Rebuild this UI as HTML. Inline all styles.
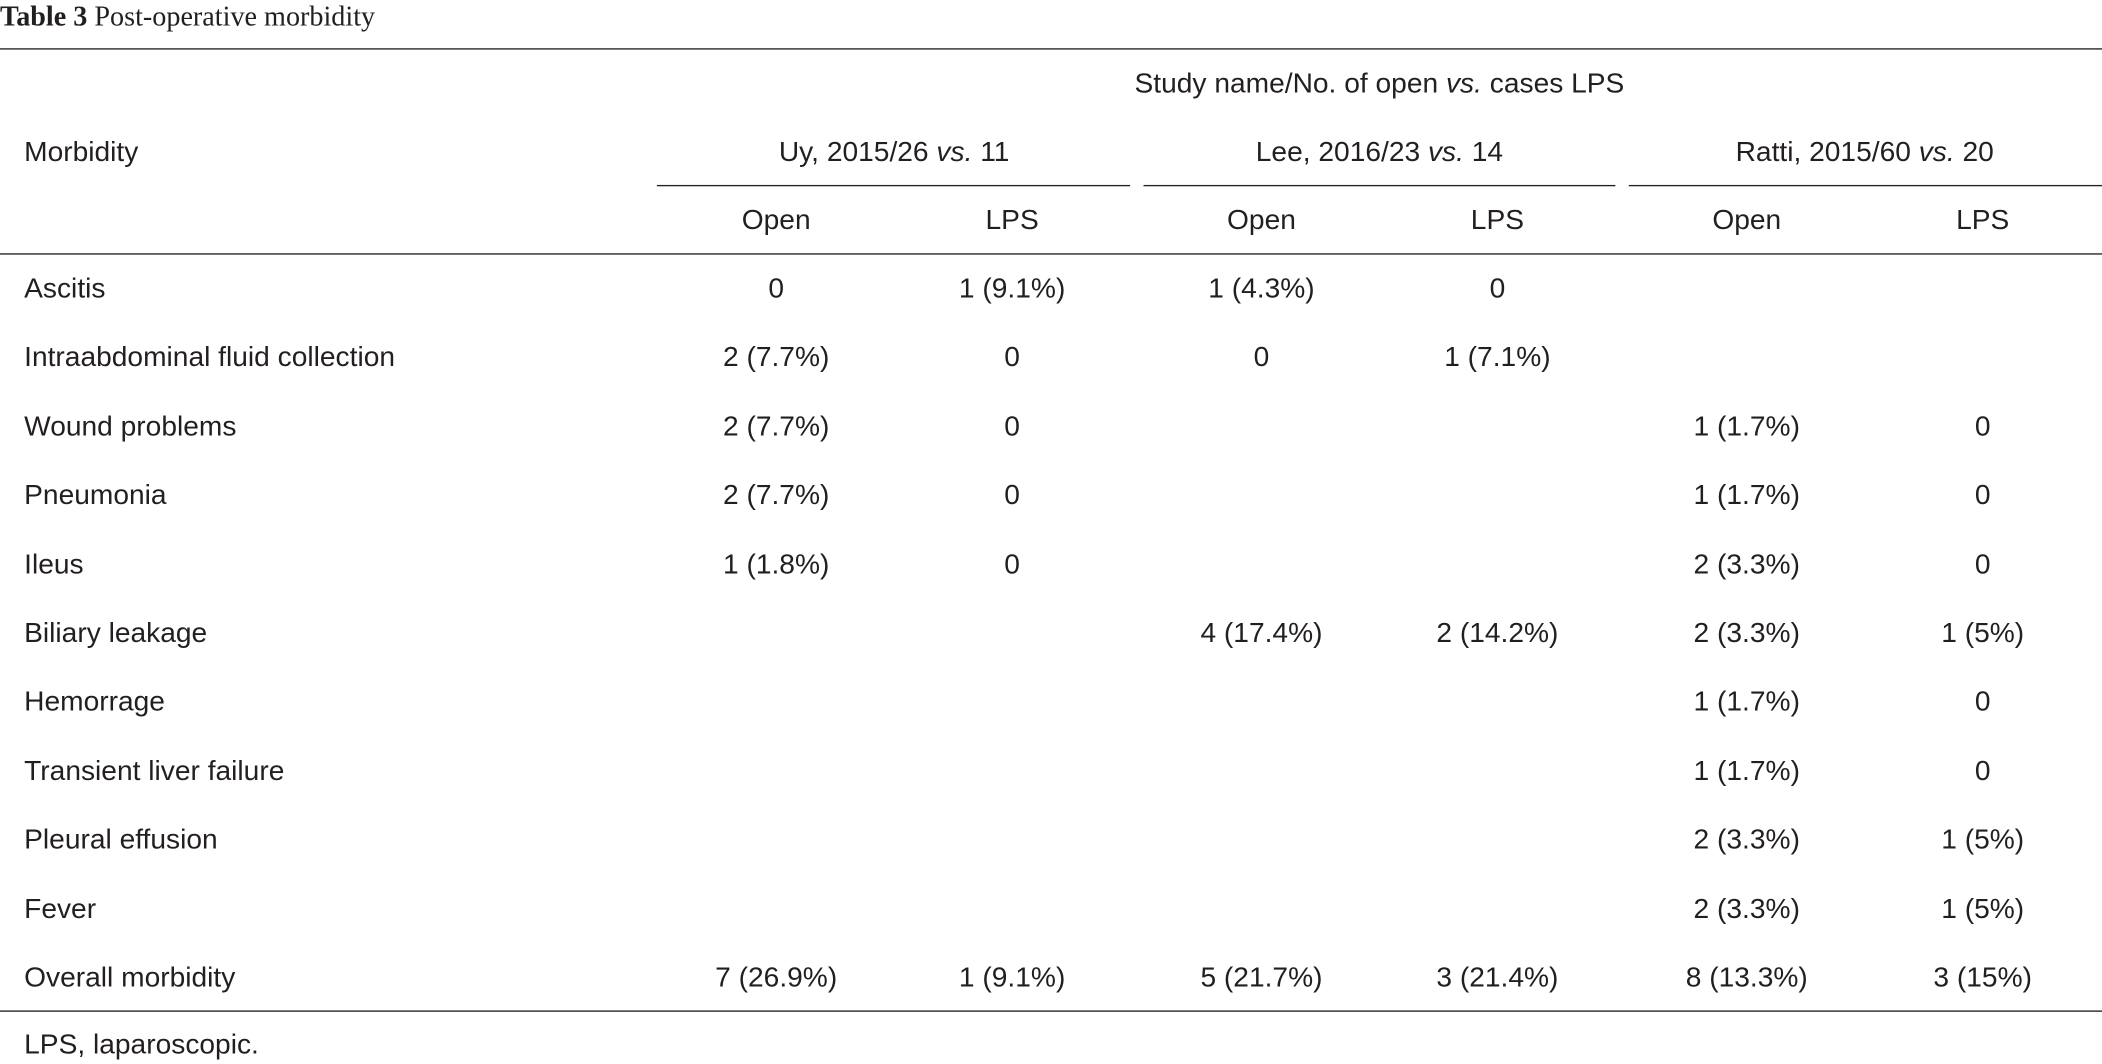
<!DOCTYPE html>
<html><head><meta charset="utf-8"><style>
html,body{margin:0;padding:0;background:#fff;width:2102px;height:1064px;overflow:hidden}
#w{position:absolute;left:0;top:0;width:1568px;height:794px;transform:scale(1.34056,1.3401);transform-origin:0 0;font-family:"Liberation Sans",sans-serif;font-size:21px;color:#231f20}
.t{position:absolute;white-space:nowrap;line-height:1}
.c{transform:translateX(-50%)}
.l{position:absolute;background:#231f20;height:1.3px}
</style></head><body>
<div id="w">
<div class="t" style="left:0;top:2px;font-family:'Liberation Serif',serif;font-size:21px"><b>Table 3</b> Post-operative morbidity</div>
<div class="l" style="left:0;width:1568px;top:36px"></div>
<div class="t c" style="left:1029px;top:52px">Study name/No. of open <i>vs.</i> cases LPS</div>
<div class="t" style="left:18px;top:103px">Morbidity</div>
<div class="l" style="left:490px;width:353px;top:138px"></div>
<div class="l" style="left:853px;width:352px;top:138px"></div>
<div class="l" style="left:1215px;width:353px;top:138px"></div>
<div class="t c" style="left:667px;top:103px">Uy, 2015/26 <i>vs.</i> 11</div>
<div class="t c" style="left:1029px;top:103px">Lee, 2016/23 <i>vs.</i> 14</div>
<div class="t c" style="left:1391px;top:103px">Ratti, 2015/60 <i>vs.</i> 20</div>
<div id="sub"></div>
<div class="l" style="left:0;width:1568px;top:189px"></div>
<div id="rows"></div>
<div class="l" style="left:0;width:1568px;top:754px"></div>
<div class="t" style="left:18px;top:769px">LPS, laparoscopic.</div>
</div>
<script>
const cols=[579,755,941,1117,1303,1479];
const sub=["Open","LPS","Open","LPS","Open","LPS"];
const labels=["Ascitis","Intraabdominal fluid collection","Wound problems","Pneumonia","Ileus","Biliary leakage","Hemorrage","Transient liver failure","Pleural effusion","Fever","Overall morbidity"];
const vals=[
["0","1 (9.1%)","1 (4.3%)","0","",""],
["2 (7.7%)","0","0","1 (7.1%)","",""],
["2 (7.7%)","0","","","1 (1.7%)","0"],
["2 (7.7%)","0","","","1 (1.7%)","0"],
["1 (1.8%)","0","","","2 (3.3%)","0"],
["","","4 (17.4%)","2 (14.2%)","2 (3.3%)","1 (5%)"],
["","","","","1 (1.7%)","0"],
["","","","","1 (1.7%)","0"],
["","","","","2 (3.3%)","1 (5%)"],
["","","","","2 (3.3%)","1 (5%)"],
["7 (26.9%)","1 (9.1%)","5 (21.7%)","3 (21.4%)","8 (13.3%)","3 (15%)"]];
const w=document.getElementById('w');
function mk(txt,x,y,center){const d=document.createElement('div');d.className='t'+(center?' c':'');d.style.left=x+'px';d.style.top=y+'px';d.textContent=txt;w.appendChild(d);return d;}
sub.forEach((s,i)=>{const d=mk(s,cols[i],154,true);

});
labels.forEach((lab,r)=>{const y=205+r*51.4;
const d=mk(lab,18,y,false);


vals[r].forEach((v,i)=>{if(!v)return;const c=mk(v,cols[i],y,true);

});});
</script>
</body></html>
